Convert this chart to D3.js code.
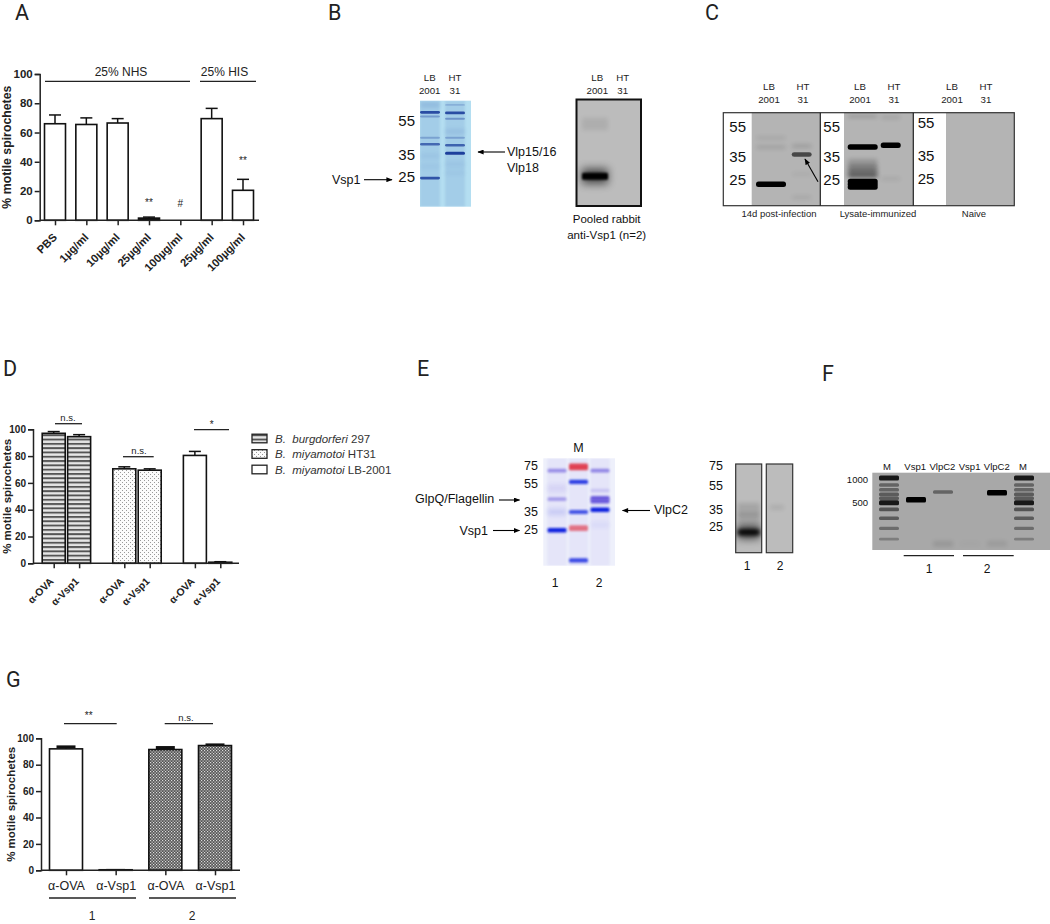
<!DOCTYPE html>
<html>
<head>
<meta charset="utf-8">
<script src="https://cdn.jsdelivr.net/npm/d3@7"></script>
<style>
  html, body { margin: 0; background: #fff; }
  svg { display: block; font-family: "Liberation Sans", Arial, sans-serif; fill: #1a1a1a; }
  .letter { font-family: Roboto, sans-serif; font-size: 21.5px; fill: #222; }
  .axis text { font-weight: bold; fill: #222; font-family: "Liberation Sans", Arial, sans-serif; }
  .axis path, .axis line { stroke: #222; stroke-width: 1.5px; }
  .ytitle { font-weight: bold; fill: #222; }
</style>
</head>
<body>
<svg id="fig" width="1050" height="924"></svg>
<script>
// panel A
const aLabels = ["PBS", "1µg/ml", "10µg/ml", "25µg/ml", "100µg/ml", "25µg/ml ", "100µg/ml "];
const aValues = [66, 65.5, 66.5, 1.5, 0, 69.5, 20.5];
const aErrors = [72, 70, 69.5, 2.2, 0, 76.5, 28];

// panel D
const dGroups = ["B. burgdorferi 297", "B. miyamotoi HT31", "B. miyamotoi LB-2001"];
const dTreatments = ["α-OVA", "α-Vsp1"];
const dValues = [[97, 94.5], [70.5, 69.5], [80.5, 0.8]];
const dErrors = [[98.3, 96], [72, 70.5], [83.5, 1.3]];

// panel G
const gLabels = ["α-OVA", "α-Vsp1", "α-OVA ", "α-Vsp1 "];
const gValues = [92, 0.4, 91.5, 94.5];
const gErrors = [93.5, 0.6, 93, 95];

const yTicks = [0, 20, 40, 60, 80, 100];

// gels: band = [lane, migration % of the gel height, strength 0-1]
const bStainLanes = ["LB", "HT"];
const bStainBands = [
  ["LB", 4, .15], ["LB", 11, .9], ["LB", 15, .35], ["LB", 35, .3], ["LB", 41, .7], ["LB", 73, .85],
  ["LB", 52, .08], ["LB", 62, .06],
  ["HT", 4, .2], ["HT", 11.5, .9], ["HT", 17, .4], ["HT", 29, .12], ["HT", 35, .3], ["HT", 42, .75], ["HT", 49.5, 1],
  ["HT", 60, .08], ["HT", 68, .06]
];
const bBlotLanes = ["LB", "HT"];
const bBlotBands = [["LB", 23, .07], ["LB", 72, 1]];

const cLanes = ["LB1", "HT1", "LB2", "HT2"];
const cBands = [
  ["LB1", 27, .08], ["LB1", 37, .12], ["LB1", 77, 1],
  ["HT1", 36, .15], ["HT1", 45, .6], ["HT1", 66, .05], ["HT1", 91, .08],
  ["LB2", 4, .15], ["LB2", 37, 1], ["LB2", 52, .2], ["LB2", 57, .35], ["LB2", 62, .45], ["LB2", 67, .55],
  ["LB2", 74, 1], ["LB2", 77, 1], ["LB2", 80, 1],
  ["HT2", 5, .1], ["HT2", 35, 1], ["HT2", 71, .08]
];
const cMarkers = ["55", "35", "25"];
const cMarkerPos = [15, 47.5, 72];

const eLanes = ["1", "M", "2"];
const eBlue = [
  ["1", 50, .12], ["1", 67, 1],
  ["M", 22, .85], ["M", 50, .75], ["M", 95, .8],
  ["2", 48, 1], ["2", 62, .05]
];
const ePurple = [
  ["1", 11.5, .55], ["1", 38, .45], ["1", 28, .1],
  ["2", 11.5, .6], ["2", 37, .85], ["2", 40, .85], ["2", 30, .2]
];
const eRed = [["M", 8, .85], ["M", 65, .6]];
const eMarkers = ["75", "55", "35", "25"];
const eMarkerPos = [7, 24, 50, 66];
const eBlotMarkerPos = [2, 24, 51, 71];

const eBlotLanes = ["1", "2"];
const eBlotBands1 = [["1", 77, 1], ["1", 52, .12], ["1", 63, .1]];
const eBlotBands2 = [["2", 49, .08]];

const fLanes = ["ML", "Vsp1a", "VlpC2a", "Vsp1b", "VlpC2b", "MR"];
const ladderPos = [7, 16, 22, 28, 33, 39, 47.5, 59, 72, 86];
const ladderStrength = [.85, .4, .4, .45, .45, .85, .5, .45, .35, .25];
const fBands = [
  ["Vsp1a", 35, 1], ["VlpC2a", 25, .4], ["VlpC2a", 92, .1], ["Vsp1b", 92, .02],
  ["VlpC2b", 26, 1], ["VlpC2b", 92, .08]
].concat(ladderPos.flatMap((p, i) => [["ML", p, ladderStrength[i]], ["MR", p, ladderStrength[i]]]));

const svg = d3.select("#fig");
const defs = svg.append("defs");

defs.append("marker").attr("id", "head")
  .attr("viewBox", "0 0 10 8").attr("refX", 9).attr("refY", 4)
  .attr("markerWidth", 7).attr("markerHeight", 5).attr("markerUnits", "userSpaceOnUse").attr("orient", "auto")
  .append("path").attr("d", "M0,0L10,4L0,8Z").attr("fill", "#000");

const stripes = defs.append("pattern").attr("id", "stripes").attr("patternUnits", "userSpaceOnUse")
  .attr("width", 4).attr("height", 4.3);
stripes.append("rect").attr("width", 4).attr("height", 4.3).attr("fill", "#e6e6e6");
stripes.append("rect").attr("width", 4).attr("height", 1.9).attr("fill", "#555");

const dots = defs.append("pattern").attr("id", "dots").attr("patternUnits", "userSpaceOnUse")
  .attr("width", 4).attr("height", 4);
dots.append("rect").attr("width", 4).attr("height", 4).attr("fill", "#fbfbfb");
dots.append("rect").attr("width", 1).attr("height", 1).attr("fill", "#999");
dots.append("rect").attr("x", 2).attr("y", 2).attr("width", 1).attr("height", 1).attr("fill", "#999");

const check = defs.append("pattern").attr("id", "check").attr("patternUnits", "userSpaceOnUse")
  .attr("width", 3).attr("height", 3);
check.append("rect").attr("width", 3).attr("height", 3).attr("fill", "#555");
check.append("rect").attr("width", 1.2).attr("height", 1.2).attr("fill", "#ddd");
check.append("rect").attr("x", 1.5).attr("y", 1.5).attr("width", 1.2).attr("height", 1.2).attr("fill", "#ddd");

function blur(id, sd) {
  defs.append("filter").attr("id", id)
    .attr("x", "-60%").attr("y", "-500%").attr("width", "220%").attr("height", "1100%")
    .append("feGaussianBlur").attr("stdDeviation", sd);
}
blur("b05", .6); blur("b1", 1); blur("b2", 2); blur("b4", 4);

function label(txt, x, y, size, opts = {}) {
  return svg.append("text").attr("x", x).attr("y", y).attr("dy", "0.35em")
    .attr("font-size", size).attr("text-anchor", opts.anchor || "middle")
    .attr("fill", opts.fill || "#222").text(txt);
}

function rule(x1, x2, y) {
  svg.append("line").attr("x1", x1).attr("x2", x2).attr("y1", y).attr("y2", y)
    .attr("stroke", "#222").attr("stroke-width", 1.3);
}

function arrow(x1, y1, x2, y2) {
  svg.append("line").attr("x1", x1).attr("y1", y1).attr("x2", x2).attr("y2", y2)
    .attr("stroke", "#000").attr("stroke-width", 1.1).attr("marker-end", "url(#head)");
}

function letter(t, x, y) {
  svg.append("text").attr("class", "letter").attr("x", x).attr("y", y).text(t);
}

// one bar chart, x is an ordinal scale from key to bar centre
function barPanel({ keys, x, values, errors, fills, top, bottom, left, right, barW, capW, capStroke = 1.5, tickText, rotate, xFont, yTitleX, titleSize, tickFont }) {
  const y = d3.scaleLinear().domain([0, 100]).range([bottom, top]);
  const g = svg.append("g");

  const bars = g.selectAll(".bar").data(keys).join("g");
  bars.append("line")
    .attr("x1", k => x(k)).attr("x2", k => x(k))
    .attr("y1", (k, i) => y(values[i])).attr("y2", (k, i) => y(errors[i]))
    .attr("stroke", "#111").attr("stroke-width", 1.5);
  bars.append("line")
    .attr("x1", k => x(k) - capW / 2).attr("x2", k => x(k) + capW / 2)
    .attr("y1", (k, i) => y(errors[i])).attr("y2", (k, i) => y(errors[i]))
    .attr("stroke", "#111").attr("stroke-width", (k, i) => values[i] > 1 ? capStroke : 1.2)
    .attr("display", (k, i) => errors[i] > 0 ? null : "none");
  bars.append("rect")
    .attr("x", k => x(k) - barW / 2).attr("width", barW)
    .attr("y", (k, i) => y(values[i])).attr("height", (k, i) => y(0) - y(values[i]))
    .attr("fill", (k, i) => fills[i]).attr("stroke", "#111").attr("stroke-width", 1.6)
    .attr("display", (k, i) => values[i] > 0 ? null : "none");

  const yAxis = g.append("g").attr("class", "axis").attr("transform", `translate(${left},0)`)
    .call(d3.axisLeft(y).tickValues(yTicks).tickSize(5).tickPadding(2));
  yAxis.selectAll("text").style("font-size", tickFont + "px");

  const xAxis = g.append("g").attr("class", "axis").attr("transform", `translate(0,${bottom})`)
    .call(d3.axisBottom(x).tickSize(5).tickFormat(tickText));
  xAxis.select(".domain").remove();
  xAxis.append("line").attr("x1", left).attr("x2", right).attr("y1", 0).attr("y2", 0);
  if (rotate) {
    xAxis.selectAll("text")
      .attr("text-anchor", "end").attr("x", 0).attr("y", 0).attr("dy", 0)
      .attr("transform", `translate(${rotate[0]},${rotate[1]}) rotate(-45)`)
      .style("font-size", xFont + "px");
  } else {
    xAxis.selectAll("text").attr("y", 11).attr("dy", "0.71em")
      .style("font-size", xFont + "px").style("font-weight", "normal");
  }

  svg.append("text").attr("class", "ytitle").attr("text-anchor", "middle")
    .attr("font-size", titleSize)
    .attr("transform", `translate(${yTitleX},${(top + bottom) / 2}) rotate(-90)`)
    .text("% motile spirochetes");
}

// a stained gel or a film: bands go through the lane and migration scales
function gel({ x0, x1, y0, y1, bg, lanes, laneRange, bands, color, laneW, thick, coreBlur, halo, border, wash, id }) {
  const g = svg.append("g");
  const clip = "clip-" + id;
  defs.append("clipPath").attr("id", clip).append("rect")
    .attr("x", x0).attr("y", y0).attr("width", x1 - x0).attr("height", y1 - y0);
  const lane = d3.scalePoint().domain(lanes).range(laneRange);
  const mig = d3.scaleLinear().domain([0, 100]).range([y0, y1]);
  const th = d3.scaleLinear().domain([0, 1]).range(thick);
  if (bg) g.append("rect").attr("x", x0).attr("y", y0).attr("width", x1 - x0).attr("height", y1 - y0).attr("fill", bg);
  const inner = g.append("g").attr("clip-path", `url(#${clip})`);
  if (wash) {
    inner.selectAll(".wash").data(lanes).join("rect")
      .attr("x", l => lane(l) - laneW / 2).attr("width", laneW)
      .attr("y", y0).attr("height", y1 - y0)
      .attr("fill", color).attr("opacity", wash).attr("filter", "url(#b1)");
  }
  if (halo) {
    inner.selectAll(".halo").data(bands.filter(b => b[2] > .9)).join("rect")
      .attr("x", b => lane(b[0]) - laneW / 2).attr("width", laneW)
      .attr("y", b => mig(b[1]) - th(b[2]) * 1.1).attr("height", b => th(b[2]) * 2.2)
      .attr("fill", color).attr("opacity", .6).attr("filter", "url(#b4)");
  }
  // faint bands are diffuse, so they get spread out and blurred harder
  inner.selectAll(".band").data(bands).join("rect")
    .attr("x", b => lane(b[0]) - laneW / 2).attr("width", laneW)
    .attr("y", b => mig(b[1]) - th(b[2]) * (b[2] < .2 ? 1.2 : .5))
    .attr("height", b => th(b[2]) * (b[2] < .2 ? 2.4 : 1))
    .attr("rx", 1.5)
    .attr("fill", color).attr("opacity", b => b[2])
    .attr("filter", b => b[2] < .2 ? "url(#b2)" : `url(#${coreBlur})`);
  if (border) {
    g.append("rect").attr("x", x0).attr("y", y0).attr("width", x1 - x0).attr("height", y1 - y0)
      .attr("fill", "none").attr("stroke", border.color).attr("stroke-width", border.width);
  }
  return { lane, mig, inner };
}

function laneTitle(x, top) {
  return (a, b) => { label(a, x, top, 9.7); label(b, x, top + 12.5, 9.7); };
}

letter("A", 15, 20);
letter("B", 328, 20);
letter("C", 705, 20);
letter("D", 3, 376);
letter("E", 417, 376);
letter("F", 822, 381);
letter("G", 6, 687);

// ---- A
const aX = d3.scalePoint().domain(aLabels).range([55, 243]);
barPanel({
  keys: aLabels, x: aX, values: aValues, errors: aErrors,
  fills: aLabels.map((l, i) => i === 3 ? "#000" : "#fff"),
  top: 74, bottom: 220.3, left: 39.7, right: 259, barW: 21, capW: 12,
  tickText: d => d.trim(), rotate: [2.3, 17.7], xFont: 11.2, yTitleX: 11, titleSize: 12.3, tickFont: 11.5
});
label("25% NHS", 121, 71.5, 12);
rule(45, 190, 81.3);
label("25% HIS", 224.5, 71.5, 12);
rule(200, 256, 81.3);
label("**", aX(aLabels[3]), 202, 10);
label("#", aX(aLabels[4]), 203, 10);
label("**", aX(aLabels[6]), 160, 10);

// ---- D
const dOuter = d3.scaleBand().domain(dGroups).range([41, 233]).paddingInner(.28);
const dInner = d3.scaleBand().domain(dTreatments).range([0, dOuter.bandwidth()]);
const dKeys = dGroups.flatMap(g => dTreatments.map(t => g + "|" + t));
const dX = d3.scaleOrdinal().domain(dKeys).range(dKeys.map(k => {
  const [g, t] = k.split("|");
  return dOuter(g) + dInner(t) + dInner.bandwidth() / 2;
}));
const dFill = ["url(#stripes)", "url(#dots)", "#fff"];
barPanel({
  keys: dKeys, x: dX, values: dValues.flat(), errors: dErrors.flat(),
  fills: dGroups.flatMap((g, i) => dTreatments.map(() => dFill[i])),
  top: 429.3, bottom: 563.3, left: 33, right: 239, barW: 23, capW: 12,
  tickText: k => k.split("|")[1], rotate: [0, 18.7], xFont: 10.3, yTitleX: 10.5, titleSize: 11.5, tickFont: 10
});
label("n.s.", 68, 418, 9.5); rule(55, 82, 423.7);
label("n.s.", 139, 451, 9.5); rule(123, 153.7, 456.7);
label("*", 211.7, 424, 10); rule(194, 229, 429.7);

dGroups.forEach((name, i) => {
  const y = d3.scalePoint().domain(dGroups).range([438.5, 469.5])(name);
  svg.append("rect").attr("x", 252).attr("y", y - 4.3).attr("width", 15).attr("height", 8.6)
    .attr("fill", dFill[i]).attr("stroke", "#222").attr("stroke-width", 1.3);
  const t = svg.append("text").attr("x", 275).attr("y", y).attr("dy", "0.35em").attr("font-size", 11.5).attr("fill", "#333");
  const [genus, species, strain] = name.split(" ");
  t.append("tspan").attr("font-style", "italic").attr("xml:space", "preserve").text(genus + "  " + species);
  t.append("tspan").text(" " + strain);
});

// ---- G
const gX = d3.scalePoint().domain(gLabels).range([66, 215]);
barPanel({
  keys: gLabels, x: gX, values: gValues, errors: gErrors,
  fills: ["#fff", "#fff", "url(#check)", "url(#check)"],
  top: 738.3, bottom: 870.3, left: 41, right: 240, barW: 33, capW: 19, capStroke: 3,
  tickText: d => d.trim(), rotate: null, xFont: 12.5, yTitleX: 15, titleSize: 11.5, tickFont: 10
});
label("**", 88.7, 715, 10); rule(64, 116.7, 723.7);
label("n.s.", 186, 718, 9.5); rule(164.7, 213, 723.7);
rule(49, 136, 898); rule(149, 236, 898);
label("1", 92, 916, 12); label("2", 192, 916, 12);

// ---- B stained gel
gel({
  x0: 420, x1: 471, y0: 100.7, y1: 206.7, bg: "#b4def1", id: "bs",
  lanes: bStainLanes, laneRange: [430, 455], bands: bStainBands, color: "#1f3f9c",
  laneW: 20, thick: [1.5, 3], coreBlur: "b05", wash: .1
});
laneTitle(429.7, 78)("LB", "2001");
laneTitle(455, 78)("HT", "31");
label("55", 415, 121, 15, { anchor: "end", fill: "#111" });
label("35", 415, 155, 15, { anchor: "end", fill: "#111" });
label("25", 415, 177, 15, { anchor: "end", fill: "#111" });
label("Vsp1", 332, 180, 12.5, { anchor: "start", fill: "#111" });
arrow(364, 179.7, 392, 179.7);
label("Vlp15/16", 507, 152, 12.5, { anchor: "start", fill: "#111" });
label("Vlp18", 507, 168, 12.5, { anchor: "start", fill: "#111" });
arrow(505, 152, 478, 152);

// ---- B blot
gel({
  x0: 576.5, x1: 641, y0: 99.5, y1: 206, bg: "#bcbcbc", id: "bb",
  lanes: bBlotLanes, laneRange: [595, 622], bands: bBlotBands, color: "#000",
  laneW: 26, thick: [5, 7], coreBlur: "b1", halo: true, border: { color: "#111", width: 2 }
});
laneTitle(597.3, 78)("LB", "2001");
laneTitle(622.7, 78)("HT", "31");
label("Pooled rabbit", 606.7, 219, 11.5, { fill: "#111" });
label("anti-Vsp1 (n=2)", 606.7, 235, 11.5, { fill: "#111" });

// ---- C
const cY0 = 112.7, cY1 = 205.7;
svg.append("rect").attr("x", 723.3).attr("y", cY0).attr("width", 291).attr("height", cY1 - cY0).attr("fill", "#fff");
svg.append("rect").attr("x", 751.7).attr("y", cY0).attr("width", 68.6).attr("height", cY1 - cY0).attr("fill", "#b4b4b4");
svg.append("rect").attr("x", 844).attr("y", cY0).attr("width", 69.3).attr("height", cY1 - cY0).attr("fill", "#b4b4b4");
svg.append("rect").attr("x", 946).attr("y", cY0).attr("width", 68.3).attr("height", cY1 - cY0).attr("fill", "#b4b4b4");
const cLane = d3.scaleOrdinal().domain(cLanes).range([771, 801.7, 862.7, 890.7]);
const cMig = d3.scaleLinear().domain([0, 100]).range([cY0, cY1]);
const cWidth = d3.scaleOrdinal().domain(cLanes).range([30, 20, 30, 20]);
const cTh = d3.scaleLinear().domain([0, 1]).range([3, 5.5]);
defs.append("clipPath").attr("id", "clip-c").append("rect")
  .attr("x", 723.3).attr("y", cY0).attr("width", 291).attr("height", cY1 - cY0);
svg.append("g").attr("clip-path", "url(#clip-c)").selectAll("rect").data(cBands).join("rect")
  .attr("x", b => cLane(b[0]) - cWidth(b[0]) / 2).attr("width", b => cWidth(b[0]))
  .attr("y", b => cMig(b[1]) - cTh(b[2]) / 2).attr("height", b => cTh(b[2]))
  .attr("rx", 2.5).attr("fill", "#000").attr("opacity", b => b[2])
  .attr("filter", b => b[2] < .6 ? "url(#b2)" : "url(#b05)");
svg.append("rect").attr("x", 723.3).attr("y", cY0).attr("width", 291).attr("height", cY1 - cY0)
  .attr("fill", "none").attr("stroke", "#333").attr("stroke-width", 1.2);
[820.3, 913.3].forEach(x => svg.append("line").attr("x1", x).attr("x2", x).attr("y1", cY0).attr("y2", cY1)
  .attr("stroke", "#222").attr("stroke-width", 1.2));
[[737.7, 0], [831.7, 0], [926, -1]].forEach(([x, k]) => cMarkers.forEach((m, i) =>
  label(m, x, cMig(cMarkerPos[i]) + (k && i === 0 ? -4 : k), 15, { fill: "#111" })));
arrow(818, 181.7, 805, 159);
[769, 803, 860, 894, 952, 986].forEach((x, i) => {
  laneTitle(x, 87)(i % 2 ? "HT" : "LB", i % 2 ? "31" : "2001");
});
label("14d post-infection", 779, 213.7, 9.5);
label("Lysate-immunized", 878, 213.7, 9.5);
label("Naive", 974, 213.7, 9.5);

// ---- E stained gel
const eGelOpts = {
  x0: 543.3, x1: 615, y0: 458.3, y1: 565.7, lanes: eLanes, laneRange: [557, 600], laneW: 19, coreBlur: "b1"
};
const eGel = gel({ ...eGelOpts, bg: "#eef0fb", id: "e1", bands: ePurple, color: "#5a46d8", thick: [3, 4.5], wash: .06 });
gel({ ...eGelOpts, id: "e2", bands: eBlue, color: "#0f22e0", thick: [2.5, 4.5] });
gel({ ...eGelOpts, id: "e3", bands: eRed, color: "#e02838", thick: [4, 7] });
label("M", eGel.lane("M"), 448, 12.5, { fill: "#111" });
eMarkers.forEach((m, i) => label(m, 531, eGel.mig(eMarkerPos[i]), 12.5, { fill: "#111" }));
label("GlpQ/Flagellin", 415, 499, 12.5, { anchor: "start", fill: "#111" });
arrow(499, 500, 519.5, 500);
label("Vsp1", 488, 531, 12.5, { anchor: "end", fill: "#111" });
arrow(493, 530.5, 519.5, 530.5);
label("VlpC2", 654, 510, 12.5, { anchor: "start", fill: "#111" });
arrow(650, 510.5, 622.5, 510.5);
label("1", eGel.lane("1") - 2, 582.5, 12, { fill: "#111" });
label("2", eGel.lane("2") - 1, 582.5, 12, { fill: "#111" });

// ---- E blots
const eBlot1 = gel({
  x0: 735.7, x1: 761.7, y0: 464, y1: 552.7, bg: "#bcbcbc", id: "eb1",
  lanes: ["1"], laneRange: [748.7, 748.7], bands: eBlotBands1, color: "#000",
  laneW: 22, thick: [6, 6], coreBlur: "b2", halo: true, border: { color: "#333", width: 1.2 }
});
gel({
  x0: 766.3, x1: 792.7, y0: 464, y1: 552.7, bg: "#bcbcbc", id: "eb2",
  lanes: ["2"], laneRange: [777, 777], bands: eBlotBands2, color: "#000",
  laneW: 14, thick: [2, 2], coreBlur: "b05", border: { color: "#333", width: 1.2 }
});
eMarkers.forEach((m, i) => label(m, 716, eBlot1.mig(eBlotMarkerPos[i]), 12.5, { fill: "#111" }));
eBlotLanes.forEach(l => label(l, d3.scalePoint().domain(eBlotLanes).range([747, 780])(l), 565.5, 12, { fill: "#111" }));

// ---- F agarose gel
gel({
  x0: 872.3, x1: 1050, y0: 472.7, y1: 550, bg: "#a8a8a8", id: "f",
  lanes: fLanes, laneRange: [889, 1024], bands: fBands, color: "#000",
  laneW: 20, thick: [2, 5.5], coreBlur: "b05"
});
const fText = ["M", "Vsp1", "VlpC2", "Vsp1", "VlpC2", "M"];
const fTextX = d3.scalePoint().domain(d3.range(fText.length)).range([887, 1023]);
fText.forEach((t, i) => label(t, fTextX(i) + (i > 0 && i < 5 ? 1 : 0), 466.7, 9.5, { fill: "#111" }));
label("1000", 868, 480, 9.5, { anchor: "end", fill: "#111" });
label("500", 868, 502.7, 9.5, { anchor: "end", fill: "#111" });
rule(903.7, 954, 555.7); rule(963, 1013.7, 555.7);
label("1", 929, 569, 12, { fill: "#111" });
label("2", 987, 569, 12, { fill: "#111" });
</script>
</body>
</html>
